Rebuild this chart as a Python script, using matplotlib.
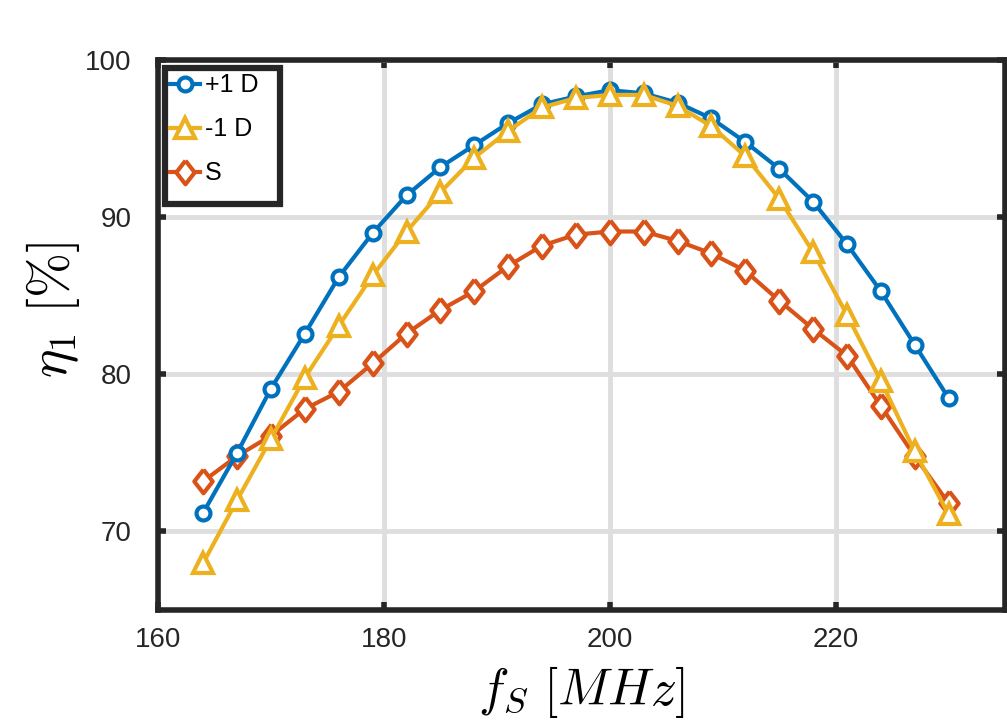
import numpy as np
import matplotlib
matplotlib.use("Agg")
import matplotlib.pyplot as plt
from matplotlib.patches import Rectangle

plt.rcParams['font.family'] = ['Liberation Sans', 'DejaVu Sans']
plt.rcParams['mathtext.fontset'] = 'cm'

# frequency sweep [MHz]
f_s = [164, 167, 170, 173, 176, 179, 182, 185, 188, 191, 194, 197,
       200, 203, 206, 209, 212, 215, 218, 221, 224, 227, 230]

# efficiency [%]
eta_plus1 = [71.2, 75.0, 79.1, 82.6, 86.2, 89.0, 91.4, 93.2, 94.6, 96.0, 97.2, 97.7,
             98.1, 97.9, 97.3, 96.3, 94.8, 93.1, 91.0, 88.3, 85.3, 81.9, 78.5]
eta_minus1 = [68.0, 72.0, 75.9, 79.8, 83.1, 86.3, 89.1, 91.6, 93.8, 95.5, 97.0, 97.6,
              97.8, 97.8, 97.1, 95.8, 93.9, 91.2, 87.8, 83.8, 79.6, 75.1, 71.1]
eta_s = [73.2, 74.8, 76.1, 77.8, 78.9, 80.7, 82.6, 84.1, 85.3, 86.9, 88.2, 88.9,
         89.1, 89.1, 88.5, 87.7, 86.6, 84.7, 82.9, 81.2, 78.0, 74.8, 71.8]

blue = '#0072BD'
yellow = '#EDB120'
red = '#D95319'
dark = '#262626'

# matlab-like diamond (wider than mpl 'd')
diamond = [(0, 1), (0.78, 0), (0, -1), (-0.78, 0), (0, 1)]

fig = plt.figure(figsize=(10.07, 7.27), dpi=100)
ax = fig.add_axes([0.157, 0.161, 0.841, 0.756])

ax.plot(f_s, eta_plus1, '-o', color=blue, lw=3, ms=10, mew=3,
        mfc='white', label='+1 D', zorder=3)
ax.plot(f_s, eta_minus1, '-^', color=yellow, lw=3, ms=14, mew=3,
        mfc='white', label='-1 D', zorder=4)
ax.plot(f_s, eta_s, '-', marker=diamond, color=red, lw=3, ms=17, mew=3,
        mfc='white', label='S', zorder=2)

ax.set_xlim(160, 235)
ax.set_ylim(65, 100)
ax.set_xticks([160, 180, 200, 220])
ax.set_yticks([70, 80, 90, 100])

ax.grid(True, color='#dedede', lw=3.5)
ax.set_axisbelow(True)

for s in ax.spines.values():
    s.set_linewidth(4)
    s.set_color(dark)

ax.tick_params(direction='in', length=6, width=4, colors=dark,
               labelsize=20, top=True, right=True)
ax.tick_params(axis='x', pad=12)
ax.tick_params(axis='y', pad=19)

ax.set_xlabel(r'$f_S\ [MHz]$', fontsize=37)
ax.set_ylabel(r'$\eta_1\ [\%]$', fontsize=39)
ax.xaxis.set_label_coords(0.5, -0.098)
ax.yaxis.set_label_coords(-0.09, 0.545)

# legend box drawn separately (matlab style padding)
box = Rectangle((0.0083, 0.738), 0.136, 0.2475, transform=ax.transAxes,
                facecolor='white', edgecolor=dark, lw=4.5, zorder=5)
ax.add_patch(box)
leg = ax.legend(loc='upper left', bbox_to_anchor=(0.0083, 0.9855),
                borderaxespad=0, fontsize=18, frameon=False,
                handlelength=1.2, handletextpad=0.2, labelspacing=0.8,
                borderpad=0.2)
leg.set_zorder(6)

fig.savefig('out.png', dpi=100)
